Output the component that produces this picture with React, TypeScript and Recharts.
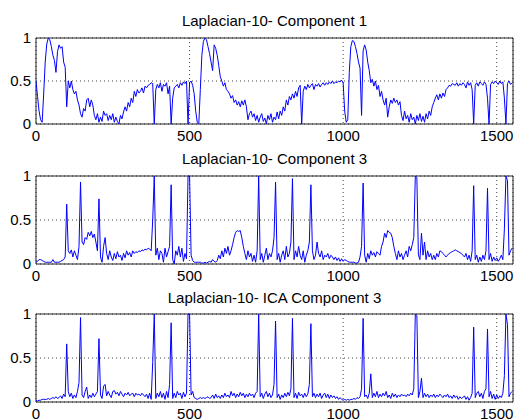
import React from "react";
import { LineChart, Line, XAxis, YAxis, CartesianGrid, ReferenceArea } from "recharts";

const sampleStep = 5;
const xTicks = [0, 500, 1000, 1500];
const yTicks = [0, 0.5, 1];
const xMax = 1553;

const titles = [
  "Laplacian-10- Component 1",
  "Laplacian-10- Component 3",
  "Laplacian-10- ICA Component 3",
];

const component1: number[] = [
  0.5, 0.32, 0.15, 0.05, 0.02, 0.35, 0.72, 0.93, 1.0, 0.98, 0.9, 0.8, 0.74, 0.6, 0.84, 0.92, 0.88, 0.9, 0.72, 0.66,
  0.2, 0.5, 0.42, 0.5, 0.4, 0.35, 0.38, 0.28, 0.22, 0.12, 0.08, 0.18, 0.15, 0.28, 0.3, 0.2, 0.28, 0.22, 0.1, 0.05,
  0.12, 0.02, 0.08, 0.03, 0.15, 0.1, 0.12, 0.04, 0.1, 0.05, 0.12, 0.02, 0.08, 0.03, 0.0, 0.1, 0.06, 0.14, 0.2, 0.15,
  0.25, 0.2, 0.3, 0.25, 0.38, 0.32, 0.4, 0.36, 0.38, 0.42, 0.36, 0.44, 0.42, 0.45, 0.46, 0.48, 0.47, 0.0, 0.4, 0.46,
  0.42, 0.48, 0.38, 0.46, 0.44, 0.48, 0.35, 0.44, 0.0, 0.3, 0.42, 0.44, 0.46, 0.42, 0.48, 0.45, 0.49, 0.47, 0.5, 0.0,
  0.48, 0.5, 0.45, 0.35, 0.15, 0.02, 0.0, 0.4, 0.8, 0.96, 1.0, 0.98, 0.9, 0.82, 0.72, 0.62, 0.92, 0.88, 0.8, 0.68,
  0.55, 0.5, 0.44, 0.48, 0.4, 0.38, 0.35, 0.3, 0.33, 0.25, 0.28, 0.22, 0.26, 0.2, 0.27, 0.22, 0.28, 0.2, 0.05, 0.12,
  0.15, 0.08, 0.12, 0.04, 0.1, 0.02, 0.08, 0.12, 0.03, 0.07, 0.0, 0.1, 0.05, 0.12, 0.02, 0.08, 0.05, 0.14, 0.06, 0.15,
  0.1, 0.2, 0.15, 0.28, 0.22, 0.32, 0.28, 0.35, 0.3, 0.38, 0.32, 0.42, 0.45, 0.0, 0.38, 0.44, 0.4, 0.46, 0.42, 0.45,
  0.47, 0.4, 0.46, 0.44, 0.47, 0.43, 0.46, 0.48, 0.45, 0.48, 0.46, 0.49, 0.47, 0.5, 0.47, 0.49, 0.48, 0.5, 0.49, 0.51,
  0.48, 0.15, 0.02, 0.05, 0.6, 0.9, 0.97, 0.96, 0.9, 0.82, 0.72, 0.65, 0.1, 0.85, 0.92, 0.86, 0.72, 0.62, 0.48, 0.52,
  0.44, 0.5, 0.4, 0.45, 0.32, 0.38, 0.28, 0.22, 0.3, 0.08, 0.2, 0.28, 0.24, 0.3, 0.25, 0.28, 0.22, 0.26, 0.1, 0.04,
  0.15, 0.06, 0.1, 0.02, 0.12, 0.05, 0.08, 0.0, 0.1, 0.04, 0.12, 0.03, 0.09, 0.02, 0.12, 0.06, 0.15, 0.1, 0.2, 0.25,
  0.3, 0.34, 0.28, 0.35, 0.3, 0.36, 0.32, 0.4, 0.42, 0.45, 0.44, 0.47, 0.46, 0.45, 0.48, 0.44, 0.47, 0.45, 0.48, 0.46,
  0.42, 0.49, 0.45, 0.48, 0.4, 0.0, 0.45, 0.48, 0.44, 0.49, 0.47, 0.45, 0.49, 0.46, 0.3, 0.0, 0.46, 0.49, 0.47, 0.5,
  0.48, 0.46, 0.5, 0.47, 0.49, 0.3, 0.0, 0.47, 0.5, 0.46, 0.48,
];

const component3: number[] = [
  0.02, 0.03, 0.05, 0.05, 0.04, 0.03, 0.02, 0.02, 0.02, 0.02, 0.02, 0.05, 0.02, 0.02, 0.02, 0.02, 0.03, 0.04, 0.05, 0.08,
  0.68, 0.15, 0.12, 0.16, 0.08, 0.15, 0.1, 0.05, 0.2, 0.93, 0.25, 0.22, 0.3, 0.28, 0.36, 0.32, 0.37, 0.3, 0.34, 0.25,
  0.15, 0.74, 0.08, 0.02, 0.2, 0.3, 0.12, 0.05, 0.15, 0.08, 0.04, 0.12, 0.06, 0.14, 0.08, 0.1, 0.04, 0.12, 0.07, 0.15,
  0.1, 0.13, 0.08, 0.15, 0.12, 0.14, 0.13, 0.15, 0.14, 0.16, 0.15, 0.17, 0.16, 0.18, 0.17, 0.15, 0.5, 1.0, 0.1, 0.18,
  0.05, 0.15, 0.12, 0.02, 0.18, 0.08, 0.14, 0.2, 0.9, 0.05, 0.0, 0.15, 0.1, 0.2, 0.08, 0.18, 0.03, 0.12, 0.06, 1.0,
  1.0, 0.1, 0.04, 0.02, 0.02, 0.02, 0.02, 0.02, 0.01, 0.01, 0.02, 0.01, 0.02, 0.03, 0.02, 0.05, 0.03, 0.02, 0.04, 0.1,
  0.06, 0.15, 0.08, 0.18, 0.12, 0.2, 0.1, 0.15, 0.22, 0.3, 0.36, 0.38, 0.37, 0.38, 0.3, 0.2, 0.12, 0.05, 0.15, 0.08,
  0.12, 0.03, 0.1, 0.02, 0.15, 1.0, 0.05, 0.12, 0.02, 0.1, 0.18, 0.05, 0.12, 0.08, 0.15, 0.3, 0.93, 0.05, 0.12, 0.02,
  0.1, 0.15, 0.05, 0.2, 0.08, 0.12, 0.25, 0.97, 0.05, 0.15, 0.08, 0.2, 0.1, 0.05, 0.15, 0.02, 0.1, 0.15, 0.25, 0.9,
  0.15, 0.05, 0.1, 0.25, 0.12, 0.08, 0.15, 0.05, 0.1, 0.08, 0.12, 0.06, 0.1, 0.08, 0.05, 0.08, 0.04, 0.07, 0.03, 0.06,
  0.03, 0.05, 0.04, 0.03, 0.02, 0.02, 0.02, 0.02, 0.01, 0.01, 0.02, 0.08, 0.2, 0.92, 0.1, 0.02, 0.12, 0.06, 0.15, 0.1,
  0.13, 0.08, 0.14, 0.12, 0.1, 0.2, 0.25, 0.35, 0.3, 0.38, 0.36, 0.35, 0.3, 0.2, 0.12, 0.05, 0.15, 0.08, 0.12, 0.05,
  0.1, 0.15, 0.08, 0.2, 0.15, 0.22, 0.3, 1.0, 0.98, 0.1, 0.05, 0.35, 0.1, 0.25, 0.05, 0.15, 0.08, 0.12, 0.05, 0.1,
  0.05, 0.12, 0.08, 0.15, 0.14, 0.12, 0.1, 0.08, 0.1, 0.12, 0.13, 0.14, 0.15, 0.16, 0.15, 0.14, 0.13, 0.12, 0.1, 0.08,
  0.12, 0.05, 0.1, 0.03, 0.15, 0.89, 0.05, 0.1, 0.02, 0.08, 0.03, 0.1, 0.05, 0.15, 0.86, 0.05, 0.12, 0.03, 0.08, 0.04,
  0.07, 0.03, 0.06, 0.1, 0.05, 0.4, 1.0, 0.95, 0.1, 0.15, 0.18,
];

const icaComponent3: number[] = [
  0.02, 0.01, 0.02, 0.02, 0.03, 0.03, 0.03, 0.03, 0.04, 0.03, 0.04, 0.05, 0.04, 0.06, 0.04, 0.05, 0.07, 0.04, 0.09, 0.06,
  0.66, 0.12, 0.06, 0.1, 0.04, 0.08, 0.05, 0.12, 0.22, 0.96, 0.08, 0.05, 0.12, 0.17, 0.04, 0.08, 0.05, 0.1, 0.06, 0.09,
  0.12, 0.72, 0.08, 0.04, 0.18, 0.2, 0.07, 0.12, 0.08, 0.05, 0.12, 0.13, 0.09, 0.11, 0.07, 0.12, 0.09, 0.06, 0.1, 0.08,
  0.11, 0.07, 0.09, 0.1, 0.06, 0.1, 0.08, 0.09, 0.07, 0.1, 0.08, 0.06, 0.09, 0.04, 0.1, 0.03, 0.45, 1.0, 0.04, 0.1,
  0.06, 0.12, 0.05, 0.1, 0.03, 0.12, 0.05, 0.2, 0.9, 0.04, 0.1, 0.05, 0.12, 0.08, 0.1, 0.04, 0.11, 0.06, 0.1, 1.0,
  1.0, 0.08, 0.12, 0.05, 0.04, 0.03, 0.04, 0.05, 0.04, 0.05, 0.04, 0.05, 0.06, 0.04, 0.05, 0.08, 0.04, 0.09, 0.05, 0.07,
  0.04, 0.08, 0.05, 0.1, 0.06, 0.08, 0.05, 0.12, 0.07, 0.1, 0.05, 0.09, 0.06, 0.11, 0.07, 0.1, 0.05, 0.09, 0.06, 0.1,
  0.07, 0.09, 0.05, 0.1, 0.12, 1.0, 0.06, 0.1, 0.04, 0.09, 0.12, 0.06, 0.1, 0.05, 0.08, 0.2, 0.92, 0.05, 0.09, 0.03,
  0.08, 0.05, 0.1, 0.06, 0.11, 0.07, 0.15, 0.95, 0.05, 0.1, 0.04, 0.11, 0.07, 0.09, 0.05, 0.1, 0.06, 0.09, 0.2, 0.89,
  0.06, 0.1, 0.05, 0.09, 0.06, 0.1, 0.04, 0.08, 0.1, 0.05, 0.09, 0.04, 0.08, 0.05, 0.07, 0.04, 0.06, 0.03, 0.05, 0.03,
  0.02, 0.03, 0.02, 0.03, 0.02, 0.03, 0.03, 0.04, 0.03, 0.05, 0.04, 0.06, 0.15, 0.95, 0.06, 0.08, 0.04, 0.1, 0.32, 0.05,
  0.1, 0.06, 0.12, 0.05, 0.09, 0.06, 0.1, 0.07, 0.12, 0.05, 0.08, 0.04, 0.1, 0.06, 0.09, 0.05, 0.08, 0.06, 0.09, 0.07,
  0.08, 0.06, 0.09, 0.07, 0.1, 0.08, 0.15, 1.0, 0.98, 0.05, 0.12, 0.27, 0.05, 0.1, 0.06, 0.09, 0.05, 0.08, 0.06, 0.09,
  0.05, 0.08, 0.06, 0.09, 0.07, 0.05, 0.08, 0.06, 0.09, 0.05, 0.07, 0.04, 0.08, 0.05, 0.07, 0.03, 0.06, 0.04, 0.05, 0.07,
  0.03, 0.06, 0.02, 0.05, 0.1, 0.85, 0.05, 0.1, 0.12, 0.06, 0.1, 0.04, 0.12, 0.15, 0.83, 0.06, 0.12, 0.04, 0.09, 0.03,
  0.08, 0.04, 0.07, 0.05, 0.1, 0.3, 1.0, 0.88, 0.06, 0.1, 0.12,
];

const seriesList = [component1, component3, icaComponent3];

const toRows = (values: number[]) => values.map((v, i) => ({ x: i * sampleStep, y: v }));

const FONT = "'Liberation Sans', Arial, Helvetica, sans-serif";

const panels = [
  { top: 0, height: 150, marginTop: 38, titleTop: 13 },
  { top: 140, height: 150, marginTop: 36, titleTop: 151 },
  { top: 280, height: 148, marginTop: 34, titleTop: 290 },
];

export default function App() {
  return (
    <div
      style={{
        position: "absolute",
        left: 0,
        top: 0,
        width: 516,
        height: 419,
        overflow: "hidden",
        background: "#fff",
        fontFamily: FONT,
      }}
    >
      {panels.map((p, idx) => (
        <div key={"c" + idx} style={{ position: "absolute", left: 0, top: p.top }}>
          <LineChart
            width={516}
            height={p.height}
            data={toRows(seriesList[idx])}
            margin={{ top: p.marginTop, right: 3, bottom: 0, left: 0 }}
          >
            <CartesianGrid stroke="#444" strokeDasharray="1 3" strokeWidth={1} />
            <XAxis
              type="number"
              dataKey="x"
              domain={[0, xMax]}
              ticks={xTicks}
              allowDataOverflow
              height={26}
              tickLine={false}
              axisLine={false}
              tickSize={0}
              tickMargin={6}
              tick={{ fontSize: 15, fill: "#000", fontFamily: FONT }}
              interval={0}
            />
            <YAxis
              type="number"
              domain={[0, 1]}
              ticks={yTicks}
              width={36}
              tickLine={false}
              axisLine={false}
              tickSize={0}
              tickMargin={5}
              tick={{ fontSize: 15, fill: "#000", fontFamily: FONT }}
              tickFormatter={(v: number) => String(v)}
              interval={0}
            />
            <Line
              type="linear"
              dataKey="y"
              stroke="#0000ff"
              strokeWidth={1}
              dot={false}
              isAnimationActive={false}
            />
            <ReferenceArea
              x1={0}
              x2={xMax}
              y1={0}
              y2={1}
              fill="none"
              stroke="#222"
              strokeWidth={1}
              ifOverflow="visible"
            />
          </LineChart>
        </div>
      ))}
      {panels.map((p, idx) => (
        <div
          key={"t" + idx}
          style={{
            position: "absolute",
            left: 36,
            width: 477,
            top: p.titleTop,
            textAlign: "center",
            fontSize: 15,
            lineHeight: "15px",
            color: "#000",
            whiteSpace: "nowrap",
          }}
        >
          {titles[idx]}
        </div>
      ))}
    </div>
  );
}
